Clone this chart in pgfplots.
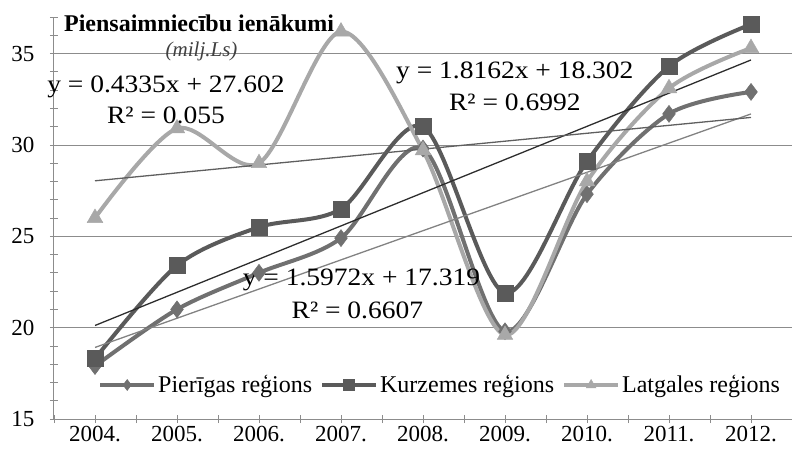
\documentclass[border=0pt]{standalone}
\usepackage{fontspec}
\setmainfont{Liberation Serif}
\newfontfamily\eqfont{Liberation Serif}[FakeStretch=1.1]
\usepackage{pgfplots}
\pgfplotsset{compat=1.18}
\definecolor{cP}{RGB}{112,112,112}
\definecolor{cK}{RGB}{90,90,90}
\definecolor{cL}{RGB}{168,168,168}
\definecolor{tP}{RGB}{130,130,130}
\definecolor{tK}{RGB}{45,45,45}
\definecolor{tL}{RGB}{95,95,95}
\definecolor{axgray}{RGB}{140,140,140}
\begin{document}
\begin{tikzpicture}
\begin{axis}[
  at={(0,0)}, anchor=south west,
  scale only axis, width=738pt, height=402pt,
  xmin=-0.5, xmax=8.5, ymin=15, ymax=37,
  axis lines*=left,
  axis line style={draw=axgray, line width=1pt},
  xtick={0,...,8},
  xticklabels={2004.,2005.,2006.,2007.,2008.,2009.,2010.,2011.,2012.},
  minor xtick={-0.5,0.5,1.5,2.5,3.5,4.5,5.5,6.5,7.5,8.5},
  ytick={15,20,25,30,35},
  minor ytick={16,17,18,19,21,22,23,24,26,27,28,29,31,32,33,34,36,37},
  tick align=center, major tick length=8pt, minor tick length=8pt,
  tick style={draw=axgray, line width=0.8pt},
  ymajorgrids, grid style={draw=axgray, line width=0.8pt},
  ticklabel style={font=\fontsize{23}{23}\selectfont},
  yticklabel style={xshift=-12pt},
  /pgf/number format/assume math mode=true,
  clip=false,
  legend style={at={(axis cs:0.0,16.86)}, anchor=west, draw=none, fill=none,
    font=\fontsize{24}{24}\selectfont,
    /tikz/every even column/.append style={column sep=6pt}},
  legend columns=3,
  legend image code/.code={\draw[#1, mark size=5.5pt, mark repeat=2, mark phase=2] plot coordinates {(0pt,0pt) (27pt,0pt) (54pt,0pt)};},
]
\addplot[cP, line width=4pt, smooth, mark=diamond*, mark size=8.5pt, mark options={solid, fill=cP, line width=0.5pt}]
  coordinates {(0,17.9) (1,21.0) (2,23.0) (3,24.9) (4,29.8) (5,19.8) (6,27.3) (7,31.7) (8,32.9)};
\addlegendentry{Pierīgas reģions}
\addplot[cK, line width=4pt, smooth, mark=square*, mark size=8pt, mark options={solid, fill=cK, line width=0.5pt}]
  coordinates {(0,18.3) (1,23.4) (2,25.5) (3,26.5) (4,31.0) (5,21.9) (6,29.1) (7,34.3) (8,36.6)};
\addlegendentry{Kurzemes reģions}
\addplot[cL, line width=4pt, smooth, mark=triangle*, mark size=9pt, mark options={solid, fill=cL, line width=0.5pt}]
  coordinates {(0,26.0) (1,30.9) (2,29.0) (3,36.2) (4,29.7) (5,19.6) (6,28.0) (7,33.1) (8,35.3)};
\addlegendentry{Latgales reģions}
\addplot[tP, line width=1.3pt, forget plot] coordinates {(0,18.916) (8,31.695)};
\addplot[tK, line width=1.3pt, forget plot] coordinates {(0,20.118) (8,34.648)};
\addplot[tL, line width=1.3pt, forget plot] coordinates {(0,28.036) (8,31.504)};
\node[font=\fontsize{24}{24}\selectfont\bfseries] at (axis cs:1.27,36.67) {Piensaimniecību ienākumi};
\node[font=\fontsize{21}{21}\selectfont\itshape, text=black!75] at (axis cs:1.3,35.09) {(milj.Ls)};
\node[font=\eqfont\fontsize{25}{25}\selectfont] at (axis cs:0.866,33.17) {y = 0.4335x + 27.602};
\node[font=\eqfont\fontsize{25}{25}\selectfont] at (axis cs:0.866,31.64) {R² = 0.055};
\node[font=\eqfont\fontsize{25}{25}\selectfont] at (axis cs:5.12,33.94) {y = 1.8162x + 18.302};
\node[font=\eqfont\fontsize{25}{25}\selectfont] at (axis cs:5.12,32.35) {R² = 0.6992};
\node[font=\eqfont\fontsize{25}{25}\selectfont] at (axis cs:3.25,22.61) {y = 1.5972x + 17.319};
\node[font=\eqfont\fontsize{25}{25}\selectfont] at (axis cs:3.2,20.97) {R² = 0.6607};
\end{axis}
\pgfresetboundingbox
\path (-54pt,-34pt) rectangle (738pt,419pt);
\end{tikzpicture}
\end{document}
